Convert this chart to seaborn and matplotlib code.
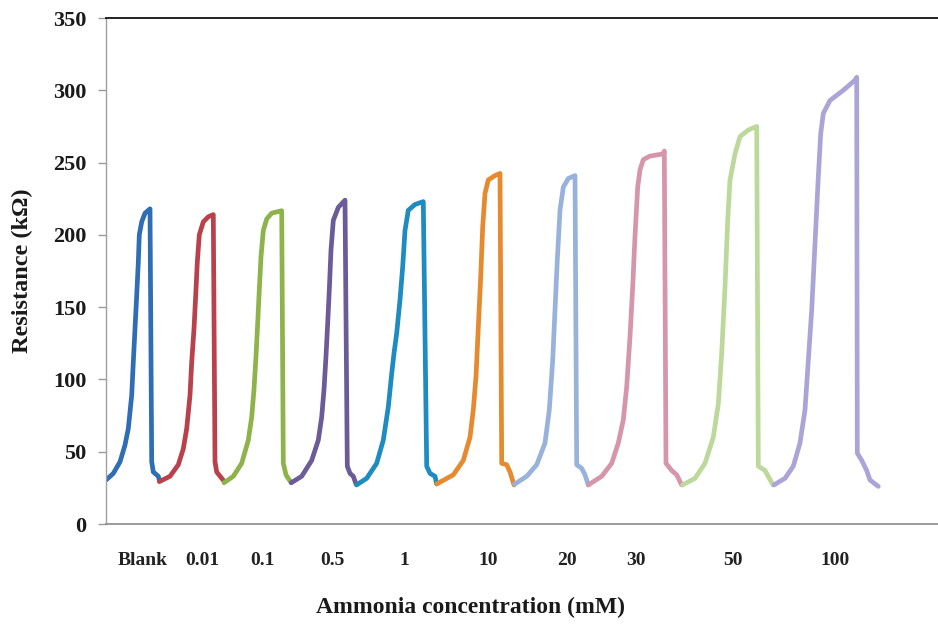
import matplotlib
matplotlib.use("Agg")
import matplotlib.pyplot as plt
import numpy as np
import pandas as pd
import seaborn as sns

# Sensor response: resistance trace over time for each ammonia exposure
labels = ["Blank", "0.01", "0.1", "0.5", "1", "10", "20", "30", "50", "100"]

t_blank = [0, 7.3, 14, 19, 22.3, 25.7, 27.3, 29, 30.7, 32.3, 33.3, 35.7, 39, 44,
           45.7, 47.3, 52.3, 53.3]
r_blank = [30.4, 35, 43, 54.6, 66, 89, 112, 135, 158, 181, 200, 209, 215, 218,
           43, 36, 33, 30.4]

t_001 = [53.3, 64, 72.3, 77.3, 80.7, 84, 85.7, 88, 89.7, 91.3, 93.3, 97.3, 102.3, 107.3,
         109, 110.7, 115.7, 118]
r_001 = [29.3, 33, 41, 52, 66, 89, 112, 135, 158, 181, 200, 209, 212.5, 214,
         43, 36, 31.6, 29.7]

t_01 = [118, 127.3, 135.7, 142.3, 145.7, 148, 150, 151.7, 153.3, 155, 157.3, 160.7, 165.7,
        175.7, 177.3, 180, 184.7]
r_01 = [28.5, 33, 42, 58, 74, 93, 116, 139, 162, 185, 203, 211, 215,
        216.7, 42, 34, 29]

t_05 = [185.2, 195.7, 205.7, 212.3, 215.7, 218, 220, 221.7, 223.3, 225, 227.3, 232.3, 239,
        241.3, 244, 247.3, 250]
r_05 = [28.5, 33, 44, 58, 74, 93, 116, 139, 162, 189.5, 210, 219, 224,
        40, 35, 33, 27.7]

t_1 = [250.5, 260.7, 270.7, 277.3, 282.3, 285.7, 288, 290.7, 294, 296.7, 299, 302.3, 309, 317.3,
       320.7, 324, 329, 330.7]
r_1 = [27, 31.6, 42, 58, 81, 104, 118, 132, 155, 178, 203, 217, 221, 223,
       40, 35, 33, 27.7]

t_10 = [330.7, 347.3, 357.3, 364, 367.3, 370, 372.3, 374.7, 376.7, 379, 382.3, 389, 394,
        395.7, 400.7, 404, 408]
r_10 = [27.7, 34, 44, 60, 79, 102, 136, 171, 205.6, 228.7, 238, 241, 242.5,
        42, 41, 36, 27]

t_20 = [408.5, 420.7, 430.7, 439, 443.3, 446.7, 449, 451.3, 454, 457.3, 462.3, 469,
        470.7, 475.7, 479, 482.3]
r_20 = [27.5, 33, 41, 56, 79, 113, 148, 182.6, 217, 233, 239, 241,
        41, 38.5, 34, 27]

t_30 = [482.3, 495.7, 505.7, 512.3, 517.3, 520.7, 524, 526.7, 529, 531.7, 534, 537.3, 544,
        557.3, 558.3, 560, 565.7, 570.7, 575.7]
r_30 = [27, 33, 42, 56, 72, 95, 129.5, 164, 199, 233, 245, 252, 254.5,
        256, 258, 42, 37, 34, 27]

t_50 = [576.5, 589, 599, 607.3, 612.3, 615.7, 619, 621.7, 624, 629, 634, 642.3, 650.7,
        652.3, 659, 667]
r_50 = [27, 31.6, 42, 60, 83, 118, 164, 210, 238, 256, 268, 272.5, 275,
        40, 37, 27]

t_100 = [668, 679, 687.3, 694, 699, 702.3, 705.7, 709, 712.3, 714.7, 717.3, 724, 737.3, 749,
         750.7, 751.3, 755.7, 760.7, 764, 772.3]
r_100 = [27, 31.6, 40, 56, 79, 113, 148, 194, 240, 270, 284, 293, 300, 307,
         309, 49, 44, 37, 30.4, 26]

times = [t_blank, t_001, t_01, t_05, t_1, t_10, t_20, t_30, t_50, t_100]
resist = [r_blank, r_001, r_01, r_05, r_1, r_10, r_20, r_30, r_50, r_100]

# Where each concentration label sits along the time axis
label_pos = [37, 96, 156, 226, 298, 382, 461, 530, 627, 729]

colors = ["#2f6db5", "#b8414c", "#8db34a", "#6b5b98", "#1e8cc0",
          "#e58a2e", "#98b2dc", "#d595aa", "#bcd99b", "#aaa5d6"]

frames = []
for lab, t, r in zip(labels, times, resist):
    frames.append(pd.DataFrame({"time": t, "resistance": r, "conc": lab}))
df = pd.concat(frames, ignore_index=True)

sns.set_style("white")
plt.rcParams["font.family"] = ["Liberation Serif", "DejaVu Serif"]
plt.rcParams["font.weight"] = "bold"

fig = plt.figure(figsize=(9.38, 6.26), dpi=100)
ax = fig.add_axes([106 / 938, 102 / 626, 1 - 106 / 938, 506 / 626])

sns.lineplot(data=df, x="time", y="resistance", hue="conc",
             palette=dict(zip(labels, colors)), hue_order=labels,
             sort=False, estimator=None, legend=False, ax=ax,
             linewidth=3.4, solid_joinstyle="round", solid_capstyle="round")

ax.set_xlim(0, 832)
ax.set_ylim(0, 350)
ax.set_yticks(np.arange(0, 351, 50))
ax.set_xticks(label_pos)
ax.set_xticklabels(labels, fontsize=14, fontweight="bold")
for lbl in ax.get_yticklabels():
    lbl.set_fontsize(16)
    lbl.set_fontweight("bold")

ax.tick_params(axis="x", length=0, pad=20, colors="#222222")
ax.tick_params(axis="y", direction="out", length=6, width=1, color="#9a9a9a",
               pad=8, labelcolor="#1a1a1a", left=True)

ax.set_xlabel("Ammonia concentration (mM)", fontsize=17, fontweight="bold", color="#1a1a1a")
ax.set_ylabel("Resistance (k\u03a9)", fontsize=17.5, fontweight="bold", color="#1a1a1a")
ax.xaxis.set_label_coords((470 - 106) / 832, -(597 - 524) / 506)
ax.yaxis.set_label_coords((33 - 106) / 832, 0.5)

ax.spines["right"].set_visible(False)
ax.spines["left"].set_color("#a0a0a0")
ax.spines["left"].set_linewidth(1.0)
ax.spines["bottom"].set_color("#8a8a8a")
ax.spines["bottom"].set_linewidth(1.2)
ax.spines["top"].set_color("#111111")
ax.spines["top"].set_linewidth(1.3)

fig.savefig("out.png", dpi=100, facecolor="white")
